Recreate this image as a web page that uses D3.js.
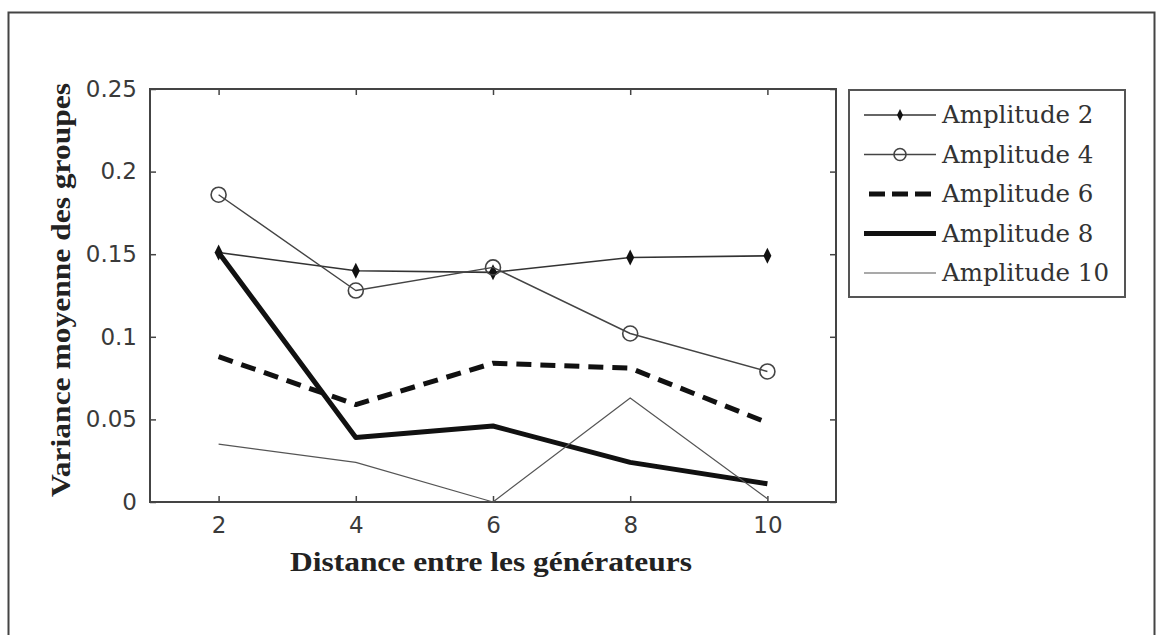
<!DOCTYPE html>
<html>
<head>
<meta charset="utf-8">
<script src="https://cdn.jsdelivr.net/npm/d3@7"></script>
<style>
  body { margin: 0; background: #fff; }
  svg { display: block; }
</style>
</head>
<body>
<script>
// data
var distances = [2, 4, 6, 8, 10];
var amp2 = [0.151, 0.140, 0.139, 0.148, 0.149];
var amp4 = [0.186, 0.128, 0.142, 0.102, 0.079];
var amp6 = [0.088, 0.059, 0.084, 0.081, 0.048];
var amp8 = [0.151, 0.039, 0.046, 0.024, 0.011];
var amp10 = [0.035, 0.024, 0.000, 0.063, 0.002];
var seriesNames = ["Amplitude 2", "Amplitude 4", "Amplitude 6", "Amplitude 8", "Amplitude 10"];
var yTicks = [0, 0.05, 0.1, 0.15, 0.2, 0.25];
var xTicks = [2, 4, 6, 8, 10];

var W = 1157, H = 635;
var plot = { left: 150, top: 89, right: 836, bottom: 502 };

var svg = d3.select("body").append("svg")
    .attr("width", W)
    .attr("height", H);

// outer frame (bottom edge falls off the picture)
svg.append("path")
    .attr("d", "M8.5," + (H + 5) + "V12.5H1154.5V" + (H + 5))
    .attr("fill", "none")
    .attr("stroke", "#444")
    .attr("stroke-width", 2);

var x = d3.scaleLinear().domain([1, 11]).range([plot.left, plot.right]);
var y = d3.scaleLinear().domain([0, 0.25]).range([plot.bottom, plot.top]);

// axes with inward ticks, matlab style
var tickStyle = function (g) {
    g.select(".domain").remove();
    g.selectAll(".tick line").attr("stroke", "#444").attr("stroke-width", 1.5);
    g.selectAll(".tick text")
        .attr("font-family", "DejaVu Sans, sans-serif")
        .attr("font-size", 23)
        .attr("fill", "#3a3a3a");
};
svg.append("g")
    .attr("transform", "translate(0," + plot.bottom + ")")
    .call(d3.axisBottom(x).tickValues(xTicks).tickSizeInner(-6).tickSizeOuter(0).tickPadding(15).tickFormat(d3.format("d")))
    .call(tickStyle);
svg.append("g")
    .attr("transform", "translate(0," + plot.top + ")")
    .call(d3.axisTop(x).tickValues(xTicks).tickSizeInner(-6).tickSizeOuter(0).tickFormat(""))
    .call(tickStyle);
svg.append("g")
    .attr("transform", "translate(" + plot.left + ",0)")
    .call(d3.axisLeft(y).tickValues(yTicks).tickSizeInner(-6).tickSizeOuter(0).tickPadding(13).tickFormat(function (d) { return d3.format("")(+d.toFixed(2)); }))
    .call(tickStyle);
svg.append("g")
    .attr("transform", "translate(" + plot.right + ",0)")
    .call(d3.axisRight(y).tickValues(yTicks).tickSizeInner(-6).tickSizeOuter(0).tickFormat(""))
    .call(tickStyle);

svg.append("rect")
    .attr("x", plot.left)
    .attr("y", plot.top)
    .attr("width", plot.right - plot.left)
    .attr("height", plot.bottom - plot.top)
    .attr("fill", "none")
    .attr("stroke", "#444")
    .attr("stroke-width", 2);

// series
var styles = [
    { width: 1.6, color: "#333", dash: null, marker: "star" },
    { width: 1.4, color: "#444", dash: null, marker: "circle" },
    { width: 5, color: "#111", dash: "15,9", marker: null },
    { width: 5, color: "#111", dash: null, marker: null },
    { width: 1.2, color: "#555", dash: null, marker: null }
];
var allSeries = [amp2, amp4, amp6, amp8, amp10];

var line = d3.line()
    .x(function (d, i) { return x(distances[i]); })
    .y(function (d) { return y(d); });

function drawMarker(g, kind, cx, cy, small) {
    if (kind === "circle") {
        g.append("circle")
            .attr("cx", cx).attr("cy", cy)
            .attr("r", small ? 6 : 7.5)
            .attr("fill", "none")
            .attr("stroke", "#444")
            .attr("stroke-width", 1.6);
    } else if (kind === "star") {
        var h = small ? 6 : 8, w = small ? 3 : 4;
        g.append("path")
            .attr("d", "M" + cx + "," + (cy - h) + "L" + (cx + w) + "," + cy + "L" + cx + "," + (cy + h) + "L" + (cx - w) + "," + cy + "Z")
            .attr("fill", "#111");
    }
}

allSeries.forEach(function (vals, k) {
    var s = styles[k];
    svg.append("path")
        .datum(vals)
        .attr("d", line)
        .attr("fill", "none")
        .attr("stroke", s.color)
        .attr("stroke-width", s.width)
        .attr("stroke-dasharray", s.dash)
        .attr("stroke-linejoin", "round");
    if (s.marker) {
        var mg = svg.append("g");
        vals.forEach(function (v, i) { drawMarker(mg, s.marker, x(distances[i]), y(v), false); });
    }
});

// legend
var leg = { left: 849, top: 90, right: 1125, bottom: 297 };
svg.append("rect")
    .attr("x", leg.left).attr("y", leg.top)
    .attr("width", leg.right - leg.left).attr("height", leg.bottom - leg.top)
    .attr("fill", "#fff")
    .attr("stroke", "#555")
    .attr("stroke-width", 2);

seriesNames.forEach(function (name, k) {
    var s = styles[k];
    var ly = 115 + k * 39.5;
    var g = svg.append("g");
    g.append("line")
        .attr("x1", s.dash ? 869 : 864).attr("x2", 936)
        .attr("y1", ly).attr("y2", ly)
        .attr("stroke", s.color)
        .attr("stroke-width", s.width)
        .attr("stroke-dasharray", s.dash ? "16,7" : null);
    if (s.marker) drawMarker(g, s.marker, 900, ly, true);
    g.append("text")
        .attr("x", 942).attr("y", ly + 8)
        .attr("font-family", "DejaVu Serif, serif")
        .attr("font-size", 24.5)
        .attr("fill", "#333")
        .text(name);
});

// axis titles
svg.append("text")
    .attr("x", 491).attr("y", 571)
    .attr("text-anchor", "middle")
    .attr("font-family", "Liberation Serif, serif")
    .attr("font-weight", "bold")
    .attr("font-size", 27)
    .attr("fill", "#222")
    .attr("textLength", 402)
    .attr("lengthAdjust", "spacingAndGlyphs")
    .text("Distance entre les générateurs");

svg.append("text")
    .attr("transform", "translate(70,290) rotate(-90)")
    .attr("text-anchor", "middle")
    .attr("font-family", "Liberation Serif, serif")
    .attr("font-weight", "bold")
    .attr("font-size", 27)
    .attr("fill", "#222")
    .attr("textLength", 414)
    .attr("lengthAdjust", "spacingAndGlyphs")
    .text("Variance moyenne des groupes");
</script>
</body>
</html>
